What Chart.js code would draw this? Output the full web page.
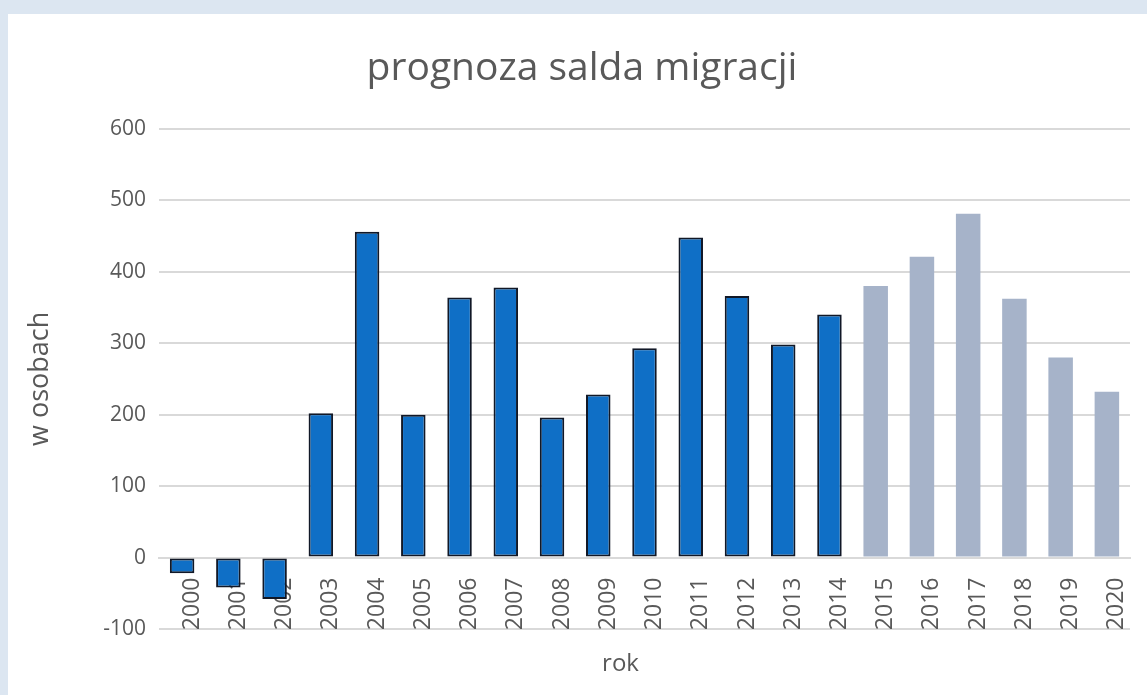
<!DOCTYPE html>
<html lang="pl">
<head>
    <meta charset="UTF-8" />
    <title>prognoza salda migracji</title>
    <style>
        html, body {
            margin: 0;
            padding: 0;
            background: #dce6f1;
        }
        .karta {
            position: absolute;
            left: 8px;
            top: 14px;
            width: 1139px;
            height: 681px;
            background: #fff;
        }
    </style>
</head>
<body>
<div class="karta">
    <canvas id="wykres" width="1139" height="681"></canvas>
</div>

<script src="https://cdn.jsdelivr.net/npm/chart.js"></script>
<script>
    // dane
    const lata = ["2000", "2001", "2002", "2003", "2004", "2005", "2006", "2007", "2008", "2009", "2010",
                  "2011", "2012", "2013", "2014", "2015", "2016", "2017", "2018", "2019", "2020"];
    const saldoRzeczywiste = [-22, -42, -58, 202, 456, 200, 364, 378, 196, 228, 293, 448, 366, 298, 340];
    const saldoPrognoza = [380, 421, 481, 362, 280, 232];
    const osY = { min: -100, max: 600, krok: 100 };

    const szary = "#595959";
    const font = "'Open Sans', sans-serif";

    const daneRzecz = lata.map((r, i) => i < saldoRzeczywiste.length ? saldoRzeczywiste[i] : null);
    const daneProg = lata.map((r, i) => {
        const j = i - saldoRzeczywiste.length;
        return j >= 0 ? saldoPrognoza[j] : null;
    });

    // bez dodatkowego marginesu od etykiet osi X
    const bezPaddingu = s => { s.paddingLeft = 0; s.paddingRight = 0; };

    // podpis "rok" stoi nieco na lewo od srodka wykresu
    const przesunRok = {
        id: "przesunRok",
        afterLayout(chart) {
            const s = chart.scales.x2;
            s.left -= 48;
        }
    };

    new Chart(document.getElementById("wykres"), {
        type: "bar",
        data: {
            labels: lata,
            datasets: [{
                label: "saldo",
                data: daneRzecz,
                backgroundColor: "#0f6fc6",
                borderColor: "#111827",
                borderWidth: 2,
                borderSkipped: false,
                grouped: false,
                barPercentage: 0.53,
                categoryPercentage: 1
            }, {
                label: "prognoza",
                data: daneProg,
                backgroundColor: "#a6b3c9",
                borderWidth: 0,
                grouped: false,
                barPercentage: 0.53,
                categoryPercentage: 1
            }]
        },
        options: {
            responsive: false,
            animation: false,
            layout: { padding: { left: 26, right: 17, top: 0, bottom: 0 } },
            plugins: {
                legend: { display: false },
                tooltip: { enabled: false },
                title: {
                    display: true,
                    text: "prognoza salda migracji",
                    color: szary,
                    font: { family: font, size: 39, weight: "normal" },
                    padding: { top: 31, bottom: 37 }
                }
            },
            scales: {
                x: {
                    type: "category",
                    position: { y: 0 },
                    offset: true,
                    z: 1,
                    grid: { display: false, drawTicks: false },
                    border: { display: true, color: "#d9d9d9", width: 2 },
                    ticks: {
                        color: szary,
                        font: { family: font, size: 23 },
                        minRotation: 90,
                        maxRotation: 90,
                        padding: 20,
                        labelOffset: 10
                    },
                    afterFit: bezPaddingu
                },
                x2: {
                    type: "category",
                    axis: "x",
                    position: "bottom",
                    grid: { display: false, drawTicks: false },
                    border: { display: false },
                    ticks: { display: false },
                    title: {
                        display: true,
                        text: "rok",
                        color: szary,
                        font: { family: font, size: 24 },
                        padding: { top: 0, bottom: 16 }
                    },
                    afterFit: s => { bezPaddingu(s); s.height = 66; }
                },
                y: {
                    min: osY.min,
                    max: osY.max,
                    grid: { color: "#d9d9d9", lineWidth: 2, drawTicks: false },
                    border: { display: false },
                    ticks: {
                        stepSize: osY.krok,
                        color: szary,
                        font: { family: font, size: 21 },
                        padding: 13
                    },
                    title: {
                        display: true,
                        text: "w osobach",
                        color: szary,
                        font: { family: font, size: 27 },
                        padding: { top: -10, bottom: 0 }
                    },
                    afterFit: s => { s.width = 125; }
                }
            }
        },
        plugins: [przesunRok]
    });
</script>
</body>
</html>
